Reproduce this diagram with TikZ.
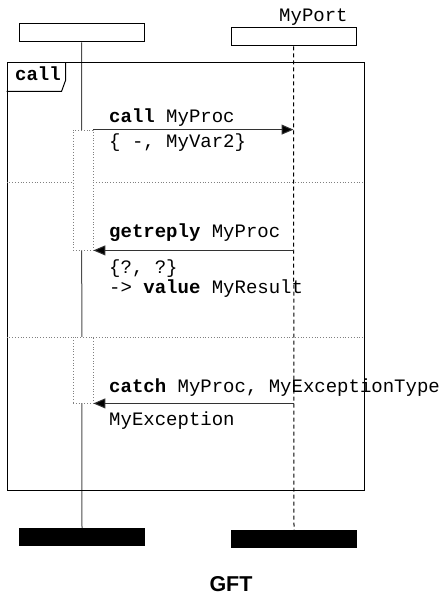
\documentclass[tikz,border=0pt]{standalone}
\usepackage{fontspec}
\setmonofont{Liberation Mono}
\setsansfont{Liberation Sans}
\usetikzlibrary{arrows.meta}
\begin{document}
\begin{tikzpicture}[x=1pt,y=-1pt,
  lbl/.style={font=\fontsize{19}{22}\selectfont\ttfamily, anchor=base west, inner sep=0pt},
  headbox/.style={draw, line width=1pt, minimum width=125pt, minimum height=18pt, inner sep=0pt},
  endbox/.style={fill=black, minimum width=126pt, minimum height=18pt, inner sep=0pt},
  frame/.style={draw, line width=1pt, minimum width=357pt, minimum height=427pt, inner sep=0pt},
  act/.style={draw=gray, dotted, fill=white, minimum width=20pt, inner sep=0pt, line width=0.8pt},
  sep/.style={draw=gray, dotted, line width=0.8pt},
  life/.style={draw=black!70, line width=1pt},
  port/.style={draw=black, dashed, line width=1pt, dash pattern=on 4pt off 3pt},
  msg/.style={line width=1pt, draw=black!80, -{Triangle[length=12pt,width=10pt,fill=black]}},
]
\useasboundingbox (0,0) rectangle (444,596);
% instances
\node[headbox] (lh) at (81.5,33) {};
\node[headbox] (rh) at (293.5,37) {};
\node[lbl] (pn) at (279,22) {MyPort};
\node[endbox] (le) at (82,537) {};
\node[endbox] (re) at (294,539) {};
\draw[life] (lh.south) -- (le.north);
\draw[port] (rh.south) -- (re.north);
% frame
\node[frame] (fr) at (185.5,276.5) {};
\draw[line width=1pt] (fr.north west) ++(0,29) -- ++(55,0) -- ++(4,-11) -- ++(0,-18);
\node[lbl, font=\fontsize{19}{22}\selectfont\ttfamily\bfseries] (tag) at (15,81) {call};
% separators
\draw[sep] (fr.west |- 0,182) -- (fr.east |- 0,182);
\draw[sep] (fr.west |- 0,337) -- (fr.east |- 0,337);
% activation regions
\node[act, minimum height=120pt] (a1) at (83,190) {};
\node[act, minimum height=66pt] (a2) at (83,370) {};
% messages
\draw[msg] (a1.north east) -- (a1.north east -| rh.south);
\draw[msg] (a1.south east -| rh.south) -- (a1.south east);
\draw[msg] (a2.south east -| rh.south) -- (a2.south east);
% labels
\node[lbl] (m1) at (109,123) {\textbf{call} MyProc};
\node[lbl] (m1b) at (109,148) {\{ -, MyVar2\}};
\node[lbl] (m2) at (109,237) {\textbf{getreply} MyProc};
\node[lbl] (m2b) at (109,273) {\{?, ?\}};
\node[lbl] (m2c) at (109,293) {-> \textbf{value} MyResult};
\node[lbl] (m3) at (109,392) {\textbf{catch} MyProc, MyExceptionType};
\node[lbl] (m3b) at (109,425) {MyException};
% caption
\node[font=\fontsize{21.5}{26}\selectfont\sffamily\bfseries, anchor=base, inner sep=0pt] (cap) at (231,591) {GFT};
\end{tikzpicture}
\end{document}
